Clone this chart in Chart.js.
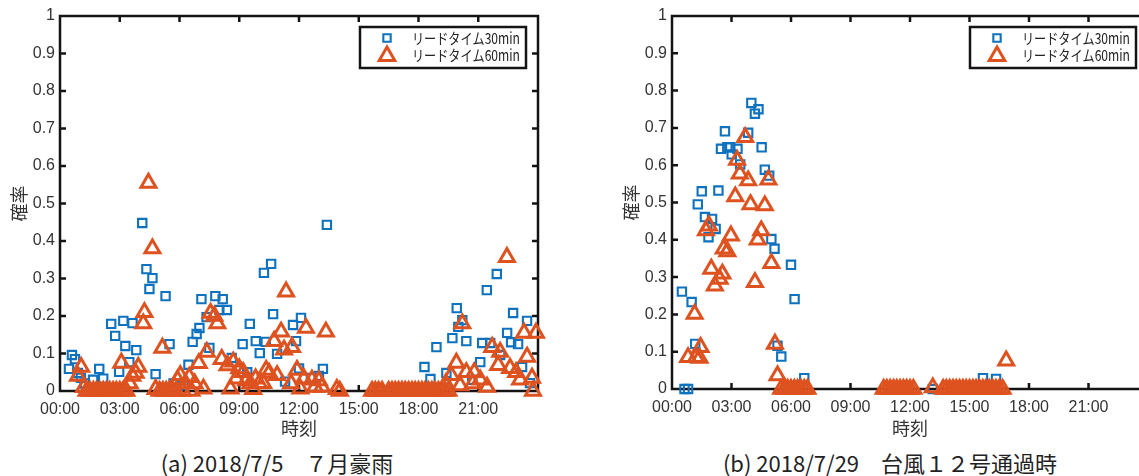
<!DOCTYPE html>
<html><head><meta charset="utf-8">
<script src="https://cdn.jsdelivr.net/npm/chart.js@4.4.0/dist/chart.umd.min.js"></script>
<style>
html,body{margin:0;padding:0;background:#fff;width:1139px;height:476px;overflow:hidden;position:relative}
#ca{position:absolute;left:0;top:0}
#cb{position:absolute;left:580px;top:0}
.cap{position:absolute;top:447px;height:30px;line-height:30px;font-family:"Noto Sans CJK JP";font-size:22px;color:#222;white-space:pre;transform:translateX(-50%)}
</style></head><body>
<canvas id="ca" width="570" height="440"></canvas>
<canvas id="cb" width="600" height="440"></canvas>
<div class="cap" style="left:277px">(a) 2018/7/5　７月豪雨</div>
<div class="cap" style="left:890px">(b) 2018/7/29　台風１２号通過時</div>
<script>
// ---- data (time in hours, probability) ----
const xTickLabels = ['00:00','03:00','06:00','09:00','12:00','15:00','18:00','21:00'];
const yTickLabels = ['0','0.1','0.2','0.3','0.4','0.5','0.6','0.7','0.8','0.9','1'];
const seriesNames = ['リードタイム30min','リードタイム60min'];
const xTitle = '時刻';
const yTitle = '確率';

const aLead30 = [[0.45,0.059],[0.6,0.096],[0.75,0.085],[0.9,0.048],[1.05,0.035],[1.25,0.02],[1.66,0.03],[1.97,0.059],[2.17,0.033],[2.57,0.179],[2.77,0.147],[2.97,0.051],[3.18,0.187],[3.28,0.12],[3.48,0.077],[3.64,0.181],[3.83,0.109],[4.13,0.448],[4.34,0.325],[4.49,0.272],[4.64,0.301],[4.8,0.045],[5.3,0.253],[5.5,0.125],[5.7,0.02],[6.2,0.015],[6.45,0.07],[6.66,0.131],[6.86,0.152],[7.0,0.168],[7.1,0.245],[7.36,0.197],[7.5,0.115],[7.8,0.253],[8.0,0.216],[8.17,0.245],[8.38,0.216],[8.62,0.088],[9.17,0.125],[9.4,0.05],[9.53,0.179],[9.83,0.133],[10.03,0.101],[10.24,0.315],[10.33,0.131],[10.6,0.339],[10.7,0.205],[10.9,0.099],[11.3,0.025],[11.7,0.176],[11.85,0.133],[12.0,0.06],[12.1,0.195],[12.6,0.035],[13.0,0.04],[13.2,0.059],[13.4,0.443],[16.0,0],[16.5,0],[17.0,0],[17.5,0],[18.0,0],[18.3,0.064],[18.6,0.032],[18.9,0.117],[19.4,0.048],[19.7,0.141],[19.92,0.221],[20.0,0.171],[20.2,0.189],[20.4,0.133],[20.7,0.03],[21.1,0.077],[21.2,0.128],[21.43,0.269],[21.6,0.128],[21.93,0.312],[22.1,0.096],[22.45,0.155],[22.65,0.13],[22.75,0.208],[23.0,0.125],[23.2,0.064],[23.45,0.187],[23.6,0.021]];

const aLead60 = [[0.9,0.04],[1.06,0.064],[1.2,0.01],[1.33,0],[1.5,0],[1.67,0],[1.83,0],[2.0,0],[2.17,0],[2.33,0],[2.5,0],[2.67,0],[2.83,0],[3.0,0],[3.17,0],[3.33,0],[3.08,0.075],[3.5,0.02],[3.63,0.04],[3.8,0.048],[3.93,0.064],[4.18,0.18],[4.24,0.21],[4.44,0.555],[4.64,0.38],[4.8,0.005],[5.0,0],[5.14,0.115],[5.17,0],[5.33,0],[5.5,0],[5.67,0],[5.83,0],[5.9,0.03],[6.04,0.042],[6.17,0],[6.3,0.02],[6.49,0.037],[6.6,0],[6.76,0.02],[6.97,0.074],[7.2,0.006],[7.37,0.104],[7.56,0.208],[7.75,0.2],[7.9,0.18],[8.12,0.085],[8.41,0.068],[8.56,0.006],[8.7,0.078],[8.85,0.033],[9.0,0.06],[9.2,0.05],[9.35,0.028],[9.55,0.02],[9.7,0.005],[9.82,0.033],[10.0,0.02],[10.2,0.021],[10.35,0.056],[10.5,0.048],[10.75,0.133],[10.9,0.042],[11.1,0.158],[11.25,0.11],[11.35,0.265],[11.6,0.02],[11.65,0.117],[11.9,0.056],[12.07,0.006],[12.25,0.033],[12.35,0.168],[12.65,0.03],[12.8,0.011],[13.0,0.028],[13.15,0.011],[13.35,0.158],[13.9,0.005],[14.05,0],[15.67,0],[15.83,0],[16.0,0],[16.17,0],[16.5,0],[16.67,0],[16.83,0],[17.0,0],[17.17,0],[17.33,0],[17.5,0],[17.67,0],[17.83,0],[18.0,0],[18.17,0],[18.33,0],[18.5,0],[18.67,0],[18.83,0],[19.0,0],[19.17,0],[19.33,0],[19.5,0],[19.37,0.02],[19.64,0.042],[19.9,0.075],[20.09,0.015],[20.2,0.18],[20.4,0.05],[20.72,0.02],[20.8,0.05],[21.1,0.03],[21.44,0.011],[21.7,0.117],[22.0,0.069],[22.1,0.104],[22.44,0.357],[22.6,0.061],[22.9,0.05],[23.1,0.03],[23.3,0.155],[23.45,0.091],[23.7,0.035],[23.75,0],[23.9,0.155]];

const bLead30 = [[0.5,0.261],[0.63,0],[0.81,0],[0.99,0.233],[1.17,0.121],[1.3,0.495],[1.5,0.53],[1.66,0.461],[1.84,0.407],[2.02,0.456],[2.2,0.429],[2.34,0.532],[2.47,0.644],[2.67,0.691],[2.79,0.648],[2.94,0.648],[3.01,0.629],[3.3,0.644],[3.44,0.602],[3.84,0.687],[4.0,0.767],[4.18,0.738],[4.36,0.75],[4.52,0.648],[4.68,0.588],[4.9,0.572],[5.01,0.402],[5.17,0.376],[5.32,0.116],[5.51,0.087],[5.83,0],[6.0,0.333],[6.18,0.241],[6.33,0],[6.67,0.029],[11.0,0],[11.5,0],[13.15,0],[14.5,0],[15.68,0.029],[16.34,0.027]];

const bLead60 = [[0.81,0.085],[1.14,0.201],[1.21,0.085],[1.39,0.083],[1.44,0.112],[1.71,0.425],[1.86,0.438],[1.98,0.322],[2.16,0.277],[2.4,0.295],[2.54,0.309],[2.61,0.376],[2.79,0.369],[2.97,0.411],[3.19,0.516],[3.28,0.614],[3.42,0.577],[3.69,0.675],[3.84,0.559],[3.96,0.495],[4.18,0.286],[4.32,0.4],[4.5,0.425],[4.68,0.492],[4.86,0.561],[5.01,0.337],[5.19,0.121],[5.32,0.036],[5.5,0],[5.67,0],[5.83,0],[6.0,0],[6.17,0],[6.33,0],[6.5,0],[6.67,0],[6.83,0],[10.67,0],[10.83,0],[11.0,0],[11.17,0],[11.33,0],[11.5,0],[11.67,0],[11.83,0],[12.0,0],[12.17,0],[13.15,0.004],[13.67,0],[13.83,0],[14.0,0],[14.17,0],[14.33,0],[14.5,0],[14.67,0],[14.83,0],[15.0,0],[15.17,0],[15.33,0],[15.5,0],[15.67,0],[15.83,0],[16.0,0],[16.17,0],[16.33,0],[16.5,0],[16.67,0],[16.85,0.076]];

const BLUE = '#0F72BE';
const ORANGE = '#DE5220';

const framePlugin = {
  id: 'frame',
  beforeDatasetsDraw(chart) {
    const {ctx, chartArea: a, scales: {x, y}} = chart;
    ctx.save();
    ctx.strokeStyle = '#141414';
    ctx.lineWidth = 2.5;
    ctx.strokeRect(a.left, a.top, a.right - a.left, a.bottom - a.top);
    ctx.beginPath();
    x.ticks.forEach(t => {
      if (t.value <= x.min || t.value >= x.max) return;
      const p = x.getPixelForValue(t.value);
      ctx.moveTo(p, a.top); ctx.lineTo(p, a.top + 6);
      ctx.moveTo(p, a.bottom); ctx.lineTo(p, a.bottom - 6);
    });
    y.ticks.forEach(t => {
      if (t.value <= y.min + 1e-9 || t.value >= y.max - 1e-9) return;
      const p = y.getPixelForValue(t.value);
      ctx.moveTo(a.left, p); ctx.lineTo(a.left + 6, p);
      ctx.moveTo(a.right, p); ctx.lineTo(a.right - 6, p);
    });
    ctx.stroke();
    ctx.restore();
  }
};

const legendPlugin = {
  id: 'boxLegend',
  afterDatasetsDraw(chart) {
    const {ctx, chartArea: a} = chart;
    const L = a.right - 178, T = a.top + 11, W = 166, H = 41;
    ctx.save();
    ctx.fillStyle = '#fff';
    ctx.fillRect(L, T, W, H);
    ctx.lineWidth = 2.5;
    ctx.strokeStyle = '#141414';
    ctx.strokeRect(L, T, W, H);
    chart.data.datasets.forEach((ds, i) => {
      const cy = T + 11 + i * 17;
      ctx.strokeStyle = ds.borderColor;
      ctx.fillStyle = 'rgba(0,0,0,0)';
      ctx.lineWidth = ds.borderWidth;
      Chart.helpers.drawPoint(ctx, {pointStyle: ds.pointStyle, radius: i === 0 ? 5.2 : 9, borderWidth: ds.borderWidth, rotation: 0}, L + 27, cy + (i === 1 ? 1 : 0));
      ctx.fillStyle = '#222';
      ctx.font = '15px "Noto Sans CJK JP"';
      ctx.textBaseline = 'middle';
      ctx.textAlign = 'left';
      ctx.fillText(ds.label, L + 52, cy, 108);
    });
    ctx.restore();
  }
};

function makeChart(id, sq, tri, padLeft, xAxisHeight) {
  return new Chart(document.getElementById(id), {
    type: 'scatter',
    data: {
      datasets: [
        {label: seriesNames[0], data: sq.map(p => ({x: p[0], y: p[1]})), pointStyle: 'rect', pointRadius: 5.9, borderColor: BLUE, backgroundColor: 'rgba(0,0,0,0)', borderWidth: 2.1, clip: false, order: 1},
        {label: seriesNames[1], data: tri.map(p => ({x: p[0], y: p[1]})), pointStyle: 'triangle', pointRadius: 8.6, borderColor: ORANGE, backgroundColor: 'rgba(0,0,0,0)', borderWidth: 3, clip: false, order: 0}
      ]
    },
    options: {
      responsive: false,
      animation: false,
      events: [],
      layout: {padding: {left: padLeft, top: 16, right: 32, bottom: 0}},
      plugins: {legend: {display: false}, tooltip: {enabled: false}},
      scales: {
        x: {
          type: 'linear', min: 0, max: 24,
          afterFit: s => { s.height = xAxisHeight; },
          grid: {display: false, drawTicks: false},
          border: {display: false},
          ticks: {stepSize: 3, autoSkip: false, maxRotation: 0, padding: 9, color: '#333',
            font: {family: 'Liberation Sans', size: 16},
            callback: v => (v < 24 ? xTickLabels[Math.round(v / 3)] : '')},
          title: {display: true, text: xTitle, color: '#333', padding: {top: 0, bottom: 1},
            font: {family: 'Noto Sans CJK JP', size: 18}}
        },
        y: {
          type: 'linear', min: 0, max: 1,
          afterFit: s => { s.width = 60; },
          grid: {display: false, drawTicks: false},
          border: {display: false},
          ticks: {stepSize: 0.1, autoSkip: false, padding: 5, color: '#333',
            font: {family: 'Liberation Sans', size: 16},
            callback: v => yTickLabels[Math.round(v * 10)]},
          title: {display: true, text: yTitle, color: '#333', padding: {top: 8, bottom: 0},
            font: {family: 'Noto Sans CJK JP', size: 18}}
        }
      }
    },
    plugins: [framePlugin, legendPlugin]
  });
}

makeChart('ca', aLead30, aLead60, 0, 49);
makeChart('cb', bLead30, bLead60, 32, 51);
</script>
</body></html>
